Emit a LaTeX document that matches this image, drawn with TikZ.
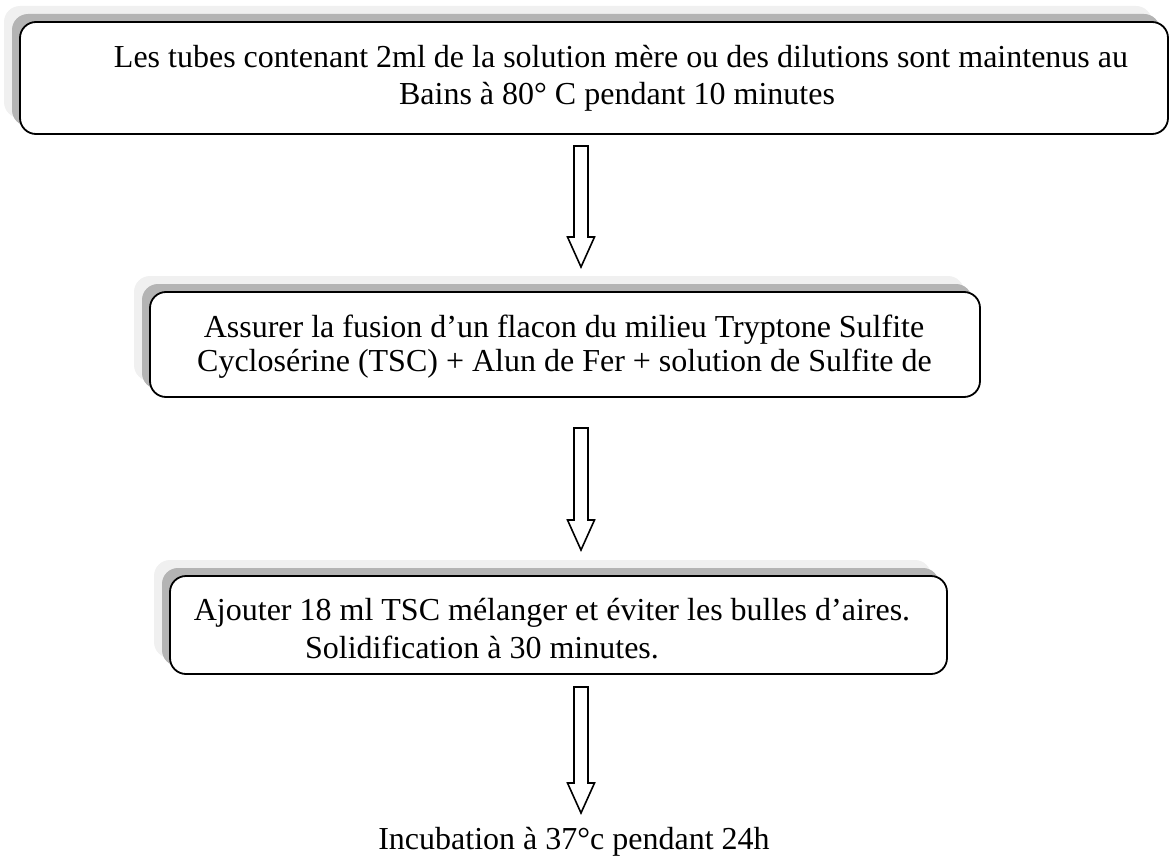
\documentclass[tikz,border=0pt]{standalone}
\usepackage{fontspec}
\setmainfont{Liberation Serif}
\usetikzlibrary{shadows,calc}
\definecolor{shadowdark}{HTML}{B4B4B4}
\definecolor{shadowlight}{HTML}{F0F0F0}
\newcommand\bodyfont{\fontsize{32pt}{36pt}\selectfont}
\newcommand\hollowdown[2]{%
  \draw[arrowline] ($(#1)+(-7,0)$) -- ($(#1)+(7,0)$) -- ($(#2)+(7,-30)$)
    -- ($(#2)+(13.5,-30)$) -- (#2) -- ($(#2)+(-13.5,-30)$)
    -- ($(#2)+(-7,-30)$) -- cycle;}
\begin{document}
\begin{tikzpicture}[x=1pt,y=-1pt,
  stepbox/.style={draw=black, line width=1.8pt, fill=white, rounded corners=16pt,
    inner sep=0pt, minimum width=#1,
    copy shadow={shadow xshift=-16pt, shadow yshift=16pt, fill=shadowlight, draw=none},
    copy shadow={shadow xshift=-8pt, shadow yshift=8pt, fill=shadowdark, draw=none}},
  lbl/.style={anchor=base, inner sep=0pt, font=\bodyfont},
  arrowline/.style={draw=black, line width=1.6pt, fill=white, line join=miter}]
\useasboundingbox (0,0) rectangle (1170,859);

% boxes
\node[stepbox=1148pt, minimum height=112pt] (b1) at (594,78) {};
\node[stepbox=830pt, minimum height=105pt] (b2) at (565,344.5) {};
\node[stepbox=777pt, minimum height=98pt] (b3) at (558.5,625) {};

% texts
\node[lbl] (t1a) at (621,68) {Les tubes contenant 2ml de la solution mère ou des dilutions sont maintenus au};
\node[lbl] (t1b) at (617,104) {Bains à 80° C pendant 10 minutes};
\node[lbl] (t2a) at (564,337) {Assurer la fusion d’un flacon du milieu Tryptone Sulfite};
\node[lbl] (t2b) at (564.5,371) {Cyclosérine (TSC) + Alun de Fer + solution de Sulfite de};
\node[lbl] (t3a) at (552,620) {Ajouter 18 ml TSC mélanger et éviter les bulles d’aires.};
\node[lbl] (t3b) at (482,658) {Solidification à 30 minutes.};
\node[lbl] (t4) at (574,849) {Incubation à 37°c pendant 24h};

% arrows
\coordinate (a1s) at (581,146);
\coordinate (a1e) at (581,267);
\coordinate (a2s) at (581,428);
\coordinate (a2e) at (581,550);
\coordinate (a3s) at (581,687);
\coordinate (a3e) at (581,813);
\hollowdown{a1s}{a1e}
\hollowdown{a2s}{a2e}
\hollowdown{a3s}{a3e}
\end{tikzpicture}
\end{document}
